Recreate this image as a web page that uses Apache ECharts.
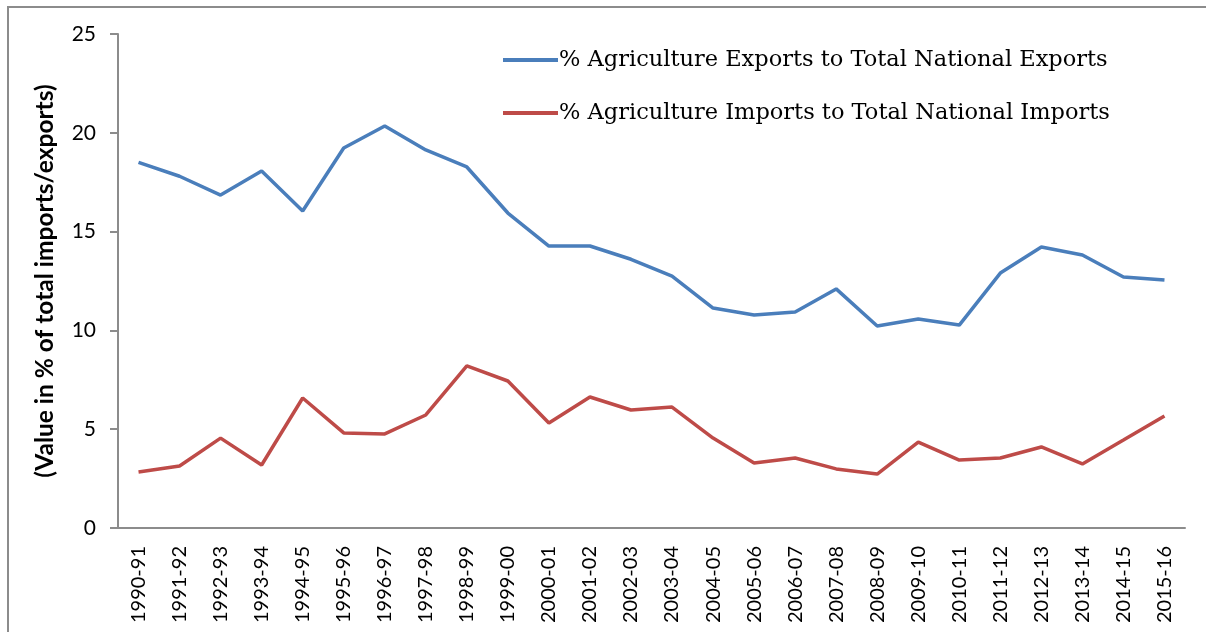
<!DOCTYPE html>
<html>
<head>
<meta charset="utf-8">
<script src="https://cdn.jsdelivr.net/npm/echarts@6/dist/echarts.min.js"></script>
<style>
html,body{margin:0;padding:0;background:#fff;}
#chart{width:1206px;height:632px;}
</style>
</head>
<body>
<div id="chart"></div>
<script>
var categories = ["1990-91","1991-92","1992-93","1993-94","1994-95","1995-96","1996-97","1997-98","1998-99","1999-00","2000-01","2001-02","2002-03","2003-04","2004-05","2005-06","2006-07","2007-08","2008-09","2009-10","2010-11","2011-12","2012-13","2013-14","2014-15","2015-16"];
var exportsShare = [18.5,17.8,16.85,18.07,16.04,19.23,20.34,19.13,18.27,15.94,14.27,14.27,13.6,12.75,11.13,10.78,10.93,12.1,10.22,10.58,10.27,12.9,14.22,13.82,12.7,12.55];
var importsShare = [2.83,3.14,4.55,3.19,6.58,4.81,4.76,5.72,8.2,7.44,5.31,6.63,5.97,6.12,4.55,3.29,3.54,2.99,2.73,4.35,3.44,3.54,4.1,3.24,4.45,5.67];
var seriesNames = ["% Agriculture Exports to Total National Exports","% Agriculture Imports to Total National Imports"];
var yTicks = {min:0, max:25, interval:5};
var yAxisName = "(Value in % of total imports/exports)";

var chart = echarts.init(document.getElementById('chart'));
chart.setOption({
  backgroundColor:'#fff',
  animation:false,
  graphic:[{type:'rect', shape:{x:8,y:7,width:1300,height:700}, style:{fill:'none', stroke:'#8c8c8c', lineWidth:2}, silent:true}],
  grid:{left:118, right:21, top:34, bottom:104, containLabel:false},
  legend:{
    orient:'vertical', left:498, top:41,
    icon:'rect', itemWidth:55, itemHeight:4, itemGap:25,
    textStyle:{fontFamily:'DejaVu Serif', fontSize:22.5, color:'#000', lineHeight:28, padding:[0,0,0,-4]},
    data:seriesNames
  },
  xAxis:{
    type:'category', data:categories, boundaryGap:true,
    axisLine:{lineStyle:{color:'#8c8c8c', width:2}},
    axisTick:{show:false},
    axisLabel:{rotate:90, interval:0, margin:18, fontFamily:'Lato', fontSize:20, color:'#000'}
  },
  yAxis:{
    type:'value', min:yTicks.min, max:yTicks.max, interval:yTicks.interval,
    name:yAxisName, nameLocation:'middle', nameRotate:90, nameGap:60,
    nameTextStyle:{fontFamily:'Lato', fontWeight:'bold', fontSize:24.5, color:'#000'},
    axisLine:{show:true, lineStyle:{color:'#8c8c8c', width:2}},
    axisTick:{show:true, inside:false, length:8, lineStyle:{color:'#8c8c8c', width:2}},
    splitLine:{show:false},
    axisLabel:{margin:22, fontFamily:'Lato', fontSize:21, color:'#000'}
  },
  series:[
    {name:seriesNames[0], type:'line', data:exportsShare, symbol:'none', lineStyle:{color:'#4a7ebb', width:3.5}, itemStyle:{color:'#4a7ebb'}},
    {name:seriesNames[1], type:'line', data:importsShare, symbol:'none', lineStyle:{color:'#be4b48', width:3.5}, itemStyle:{color:'#be4b48'}}
  ]
});
</script>
</body>
</html>
